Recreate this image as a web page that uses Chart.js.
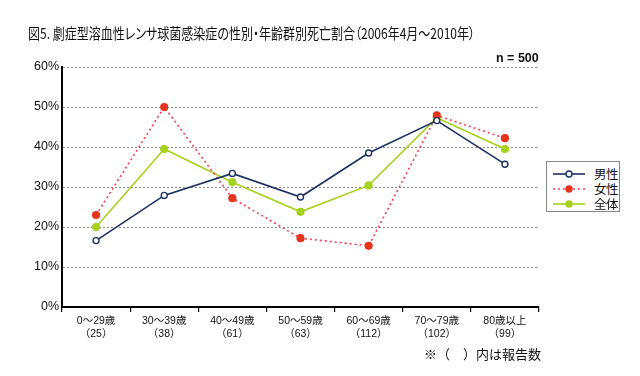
<!DOCTYPE html>
<html><head><meta charset="utf-8">
<script src="https://cdn.jsdelivr.net/npm/chart.js@4/dist/chart.umd.min.js"></script>
<style>
html,body{margin:0;padding:0;background:#fff;}
#wrap{position:relative;width:640px;height:376px;font-family:"Liberation Sans","Noto Sans CJK JP",sans-serif;color:#111;}
canvas{position:absolute;left:0;top:0;}
#title{position:absolute;left:28px;top:23px;font-size:15px;line-height:20px;font-family:"Noto Sans CJK JP",sans-serif;font-feature-settings:"palt";white-space:nowrap;transform-origin:0 50%;color:#111;}
#n{position:absolute;left:496px;top:51px;font-size:12.5px;font-weight:bold;}
#note{position:absolute;left:424px;top:344px;font-size:13px;font-family:"Noto Sans CJK JP",sans-serif;white-space:nowrap;}
#legend{position:absolute;left:546px;top:161px;width:74px;height:51px;border:1px solid #888;box-sizing:border-box;background:#fff;font-family:"Noto Sans CJK JP",sans-serif;font-size:12.5px;}
.li{position:absolute;left:6px;height:14px;white-space:nowrap;}
.li svg{position:absolute;left:0;top:2px;}
.li span{position:absolute;left:41px;top:-3px;letter-spacing:-0.5px;}
</style></head><body>
<div id="wrap">
<canvas id="c" width="640" height="376"></canvas>
<div id="title">図5. 劇症型溶血性レンサ球菌感染症の性別・年齢群別死亡割合（2006年4月～2010年）</div>
<div id="n">n = 500</div>
<div id="note">※（　）内は報告数</div>
<div id="legend"></div>
</div>
<script>
const categories = ['0〜29歳','30〜39歳','40〜49歳','50〜59歳','60〜69歳','70〜79歳','80歳以上'];
const reportCounts = ['（25）','（38）','（61）','（63）','（112）','（102）','（99）'];
const seriesNames = ['男性','女性','全体'];
const male   = [16.6, 27.9, 33.4, 27.5, 38.5, 46.6, 35.7];
const female = [23.0, 50.0, 27.2, 17.2, 15.3, 47.9, 42.2];
const total  = [20.0, 39.5, 31.2, 23.8, 30.4, 47.3, 39.5];
const yTicks = [0,10,20,30,40,50,60];

const colors = {male:'#1c3163', femaleLine:'#ff3a55', femalePt:'#e8341c', total:'#a6d11c'};

const labels = categories.map((c,i)=>[c, reportCounts[i]]);

new Chart(document.getElementById('c'), {
  type:'line',
  data:{labels, datasets:[
    {label:seriesNames[0], data:male, borderColor:colors.male, borderWidth:1.6, pointBackgroundColor:'#fff', pointBorderColor:colors.male, pointBorderWidth:1.4, pointRadius:3, tension:0},
    {label:seriesNames[1], data:female, borderColor:colors.femaleLine, borderWidth:1.6, borderDash:[2,3], pointBackgroundColor:colors.femalePt, pointBorderColor:colors.femalePt, pointRadius:3.3, tension:0},
    {label:seriesNames[2], data:total, borderColor:colors.total, borderWidth:1.6, pointBackgroundColor:colors.total, pointBorderColor:colors.total, pointRadius:3.3, tension:0}
  ]},
  options:{
    responsive:false, animation:false, devicePixelRatio:1,
    layout:{padding:{left:0,right:101,top:67,bottom:0}},
    plugins:{legend:{display:false}, title:{display:false}, tooltip:{enabled:false}},
    scales:{
      x:{offset:true,
        grid:{offset:true, drawOnChartArea:false, drawTicks:true, tickLength:5, color:'#000', lineWidth:1.2},
        border:{color:'#000', width:2},
        ticks:{color:'#111', font:{size:10.5, family:'"Liberation Sans","Noto Sans CJK JP",sans-serif'}, padding:3, maxRotation:0, autoSkip:false},
        afterFit(s){s.height=69;}
      },
      y:{min:0,max:60,
        afterBuildTicks(s){s.ticks=yTicks.map(v=>({value:v}));},
        grid:{drawTicks:false, color:(ctx)=>ctx.tick.value===0?'rgba(0,0,0,0)':'#8c8c8c', lineWidth:1},
        border:{color:'#000', width:2, dash:[2,2]},
        ticks:{color:'#111', padding:3, font:{size:12.5, family:'"Liberation Sans",sans-serif'}, callback:v=>v+'%'},
        afterFit(s){s.width=62;}
      }
    }
  }
});

// fit title to reference width
const t=document.getElementById('title');
const w=t.getBoundingClientRect().width;
t.style.transform='scaleX('+Math.min(1,447/w)+')';

// legend HTML
const leg=document.getElementById('legend');
const items=[
 {name:seriesNames[0], stroke:colors.male, dash:'', fill:'#fff', pstroke:colors.male},
 {name:seriesNames[1], stroke:colors.femaleLine, dash:'2,3', fill:colors.femalePt, pstroke:colors.femalePt},
 {name:seriesNames[2], stroke:colors.total, dash:'', fill:colors.total, pstroke:colors.total}
];
items.forEach((it,i)=>{
  const d=document.createElement('div'); d.className='li'; d.style.top=(5+i*15)+'px';
  d.innerHTML=`<svg width="34" height="10"><line x1="0" y1="5" x2="32" y2="5" stroke="${it.stroke}" stroke-width="1.6" ${it.dash?`stroke-dasharray="${it.dash}"`:''}/><circle cx="16" cy="5" r="3" fill="${it.fill}" stroke="${it.pstroke}" stroke-width="1.4"/></svg><span>${it.name}</span>`;
  leg.appendChild(d);
});
</script>
</body></html>
